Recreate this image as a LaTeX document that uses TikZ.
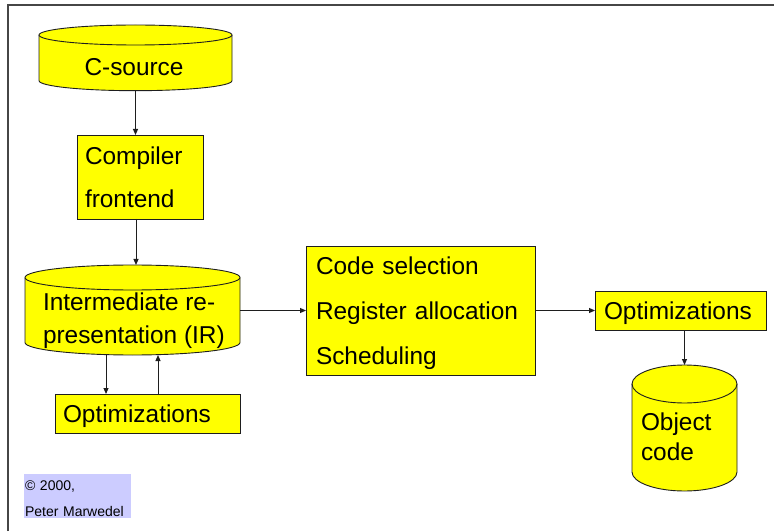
\documentclass[tikz,border=0pt]{standalone}
\usepackage{fontspec}
\setmainfont{Liberation Sans}
\usetikzlibrary{arrows.meta}

\definecolor{fillyellow}{RGB}{255,255,0}
\definecolor{copyblue}{RGB}{204,204,255}
\definecolor{inkline}{RGB}{30,30,30}
\definecolor{framegray}{RGB}{70,70,70}

% cylinder outline: centre x, x radius, y radius, top-ellipse centre y, bottom-ellipse centre y
\newcommand\cylinderpath[5]{%
  \filldraw[cylstyle] (#1-#2,#4) -- (#1-#2,#5)
    arc[start angle=180,end angle=360,x radius=#2,y radius=#3]
    -- (#1+#2,#4)
    arc[start angle=0,end angle=180,x radius=#2,y radius=#3] -- cycle;
  \draw[cylstyle,fill=none] (#1-#2,#4)
    arc[start angle=180,end angle=360,x radius=#2,y radius=#3];
}
% a line whose descenders do not count for centring
\newcommand\nodepth[1]{\raisebox{0pt}[\height][0pt]{#1}}

\begin{document}
\begin{tikzpicture}[x=1pt,y=1pt,
  every node/.style={inner sep=0pt,outer sep=0pt},
  bigtext/.style={font=\fontsize{24.4}{#1}\selectfont,align=left},
  bigtext/.default=29,
  rectbox/.style={draw=inkline,line width=0.9pt,fill=fillyellow,inner xsep=8pt,inner ysep=0pt},
  cylstyle/.style={draw=inkline,line width=0.9pt,fill=fillyellow},
  area/.style={inner sep=0pt},
  arr/.style={draw=inkline,line width=1pt,-{Triangle[length=6pt,width=5pt]}}
]
\useasboundingbox (0,0) rectangle (774,531);

% page frame
\draw[framegray,line width=1.5pt] (8,0) -- (8,526) -- (774,526);

% C source
\cylinderpath{135.5}{96.5}{10}{496}{450.3}
\node[area,minimum width=193pt,minimum height=65.7pt] (csrc) at (135.5,473.15) {};
\node[bigtext] (csrc-text) at (134,464) {C-source};

% compiler frontend
\node[rectbox,bigtext=43,minimum height=84pt,text width=110pt] (comp) at (140,354) {Compiler\\frontend};

% intermediate representation
\cylinderpath{132.5}{107.5}{12.5}{253.5}{188.5}
\node[area,minimum width=215pt,minimum height=90pt] (ir) at (132.5,221) {};
\node[bigtext=33,anchor=west,text depth=0pt] (ir-text) at (43,212.65) {Intermediate re-\\presentation (IR)};

% IR optimizations
\node[rectbox,bigtext,minimum height=39pt,text width=169pt] (opt1) at (147.5,117.5) {\nodepth{Optimizations}};

% back end
\node[rectbox,bigtext=45,inner xsep=10pt,minimum height=129pt,text width=209pt] (code) at (420.5,220.5)
  {Code selection\\Register allocation\\\nodepth{Scheduling}};

% final optimizations
\node[rectbox,bigtext,inner xsep=9pt,minimum height=39pt,text width=153pt] (opt2) at (680.5,220.5) {\nodepth{Optimizations}};

% object code
\cylinderpath{684.5}{52.5}{19}{147}{59}
\node[area,minimum width=105pt,minimum height=126pt] (obj) at (684.5,103) {};
\node[bigtext=30,anchor=west,text depth=0pt] (obj-text) at (641,94.1) {Object\\code};

% copyright note
\node[fill=copyblue,minimum width=107pt,minimum height=44pt,text width=105pt,inner xsep=1pt,
      font=\fontsize{14}{26}\selectfont,align=left] (copy) at (77.5,35)
  {\rule{0pt}{16pt}© 2000,\\Peter Marwedel};

% connectors
\coordinate (spine) at (136,0);
\coordinate (downx) at (106,0);
\coordinate (upx) at (158,0);
\draw[arr] (csrc.south) -- (csrc.south |- comp.north);
\draw[arr] (comp.south -| spine) -- (ir.north -| spine);
\draw[arr] (ir.south -| downx) -- (opt1.north -| downx);
\draw[arr] (opt1.north -| upx) -- (ir.south -| upx);
\draw[arr] (ir.east |- code.west) -- (code.west);
\draw[arr] (code.east) -- (opt2.west);
\draw[arr] (opt2.south -| obj.north) -- (obj.north);
\end{tikzpicture}
\end{document}
